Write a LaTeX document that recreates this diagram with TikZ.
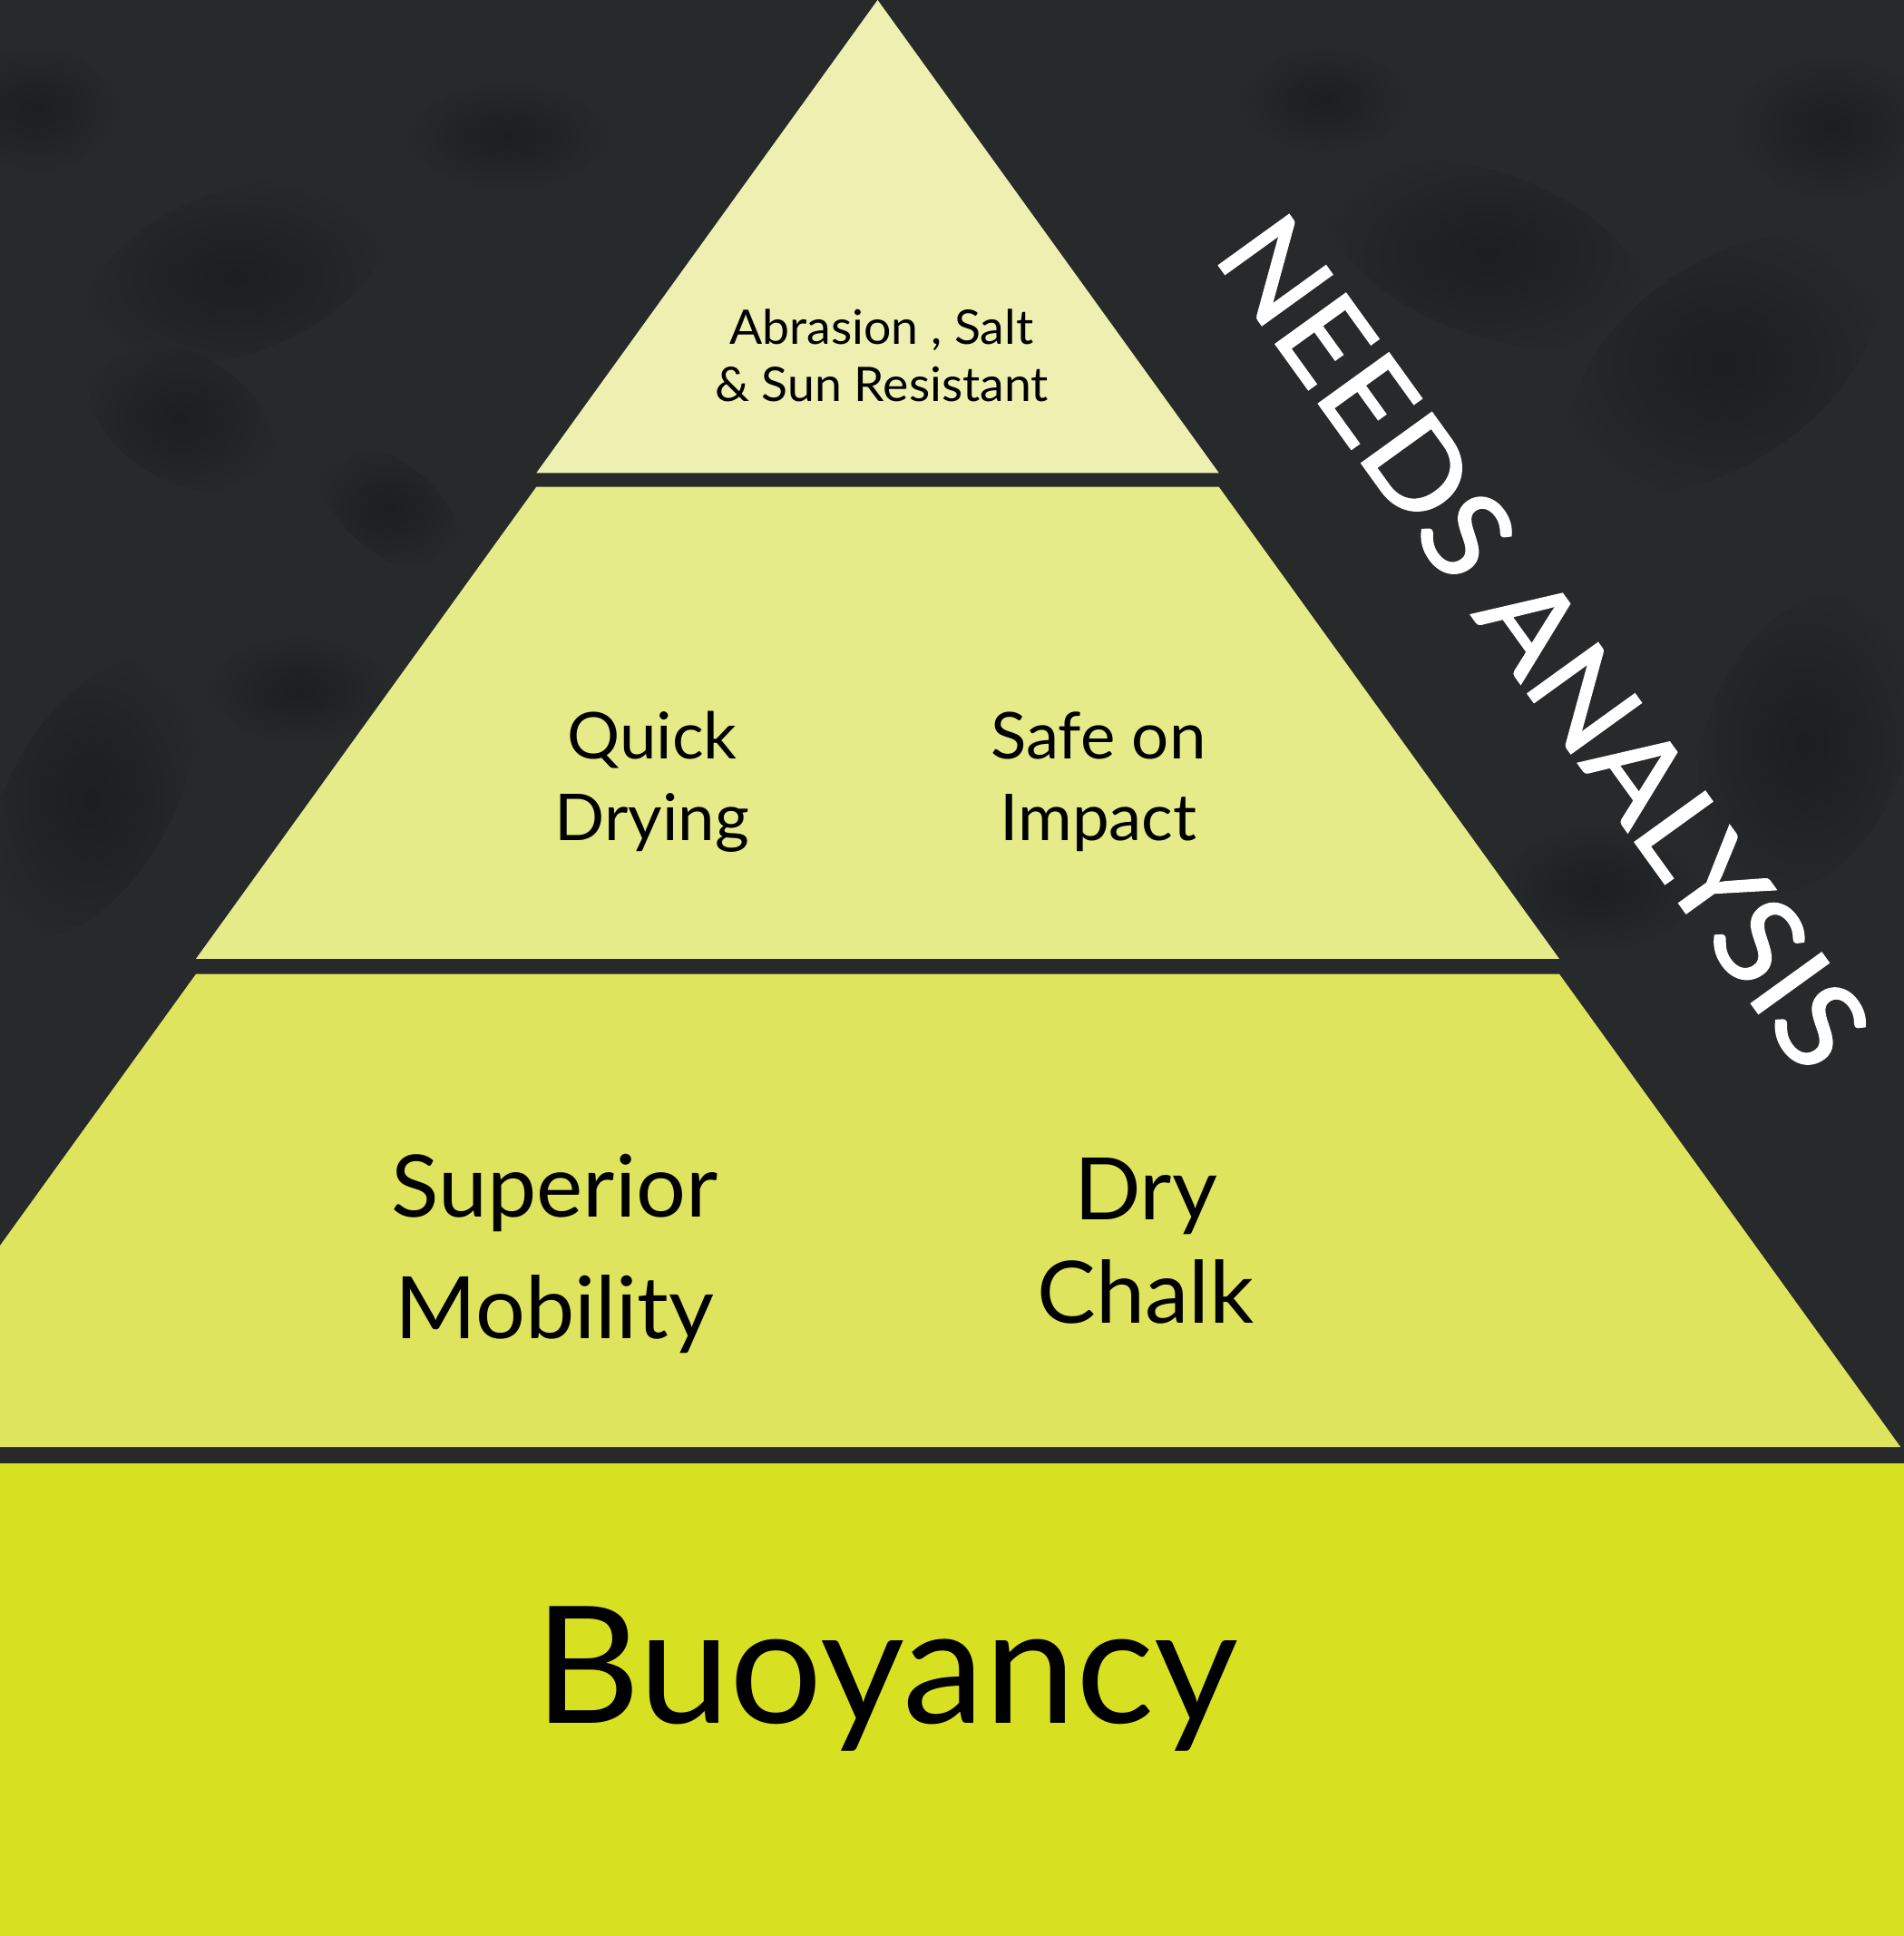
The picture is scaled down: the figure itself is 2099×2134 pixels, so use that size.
\documentclass[tikz,border=0pt]{standalone}
\usepackage{fontspec}
\setmainfont{Lato}[FakeStretch=1.02]
\newfontfamily\plainfont{Lato}[FakeStretch=1.005]
\newfontfamily\titlefont{Lato}[FakeBold=1.3, FakeStretch=1.05]
\definecolor{bgdark}{HTML}{27292B}
\definecolor{bgdeep}{HTML}{12171A}
\definecolor{tierA}{HTML}{EEF0B1}
\definecolor{tierB}{HTML}{E6EB89}
\definecolor{tierC}{HTML}{DEE45E}
\definecolor{tierD}{HTML}{D7E021}
\begin{document}
\begin{tikzpicture}[x=1pt,y=-1pt,
  lbl/.style={inner sep=0pt, anchor=base, text=black},
  blob/.style={inner color=bgdeep, outer color=bgdark, opacity=0.55}]
\useasboundingbox (0,0) rectangle (2099,2134);
\clip (0,0) rectangle (2099,2134);
% background (mottled stone)
\fill[bgdark] (0,0) rectangle (2099,2134);
\shade[blob, rotate around={20:(260,300)}] (260,300) ellipse (170 and 90);
\shade[blob, rotate around={-30:(200,460)}] (200,460) ellipse (110 and 70);
\shade[blob] (560,150) ellipse (110 and 60);
\shade[blob, rotate around={60:(100,880)}] (100,880) ellipse (170 and 90);
\shade[blob] (330,760) ellipse (100 and 60);
\shade[blob, rotate around={-20:(1640,280)}] (1640,280) ellipse (180 and 90);
\shade[blob, rotate around={35:(1900,400)}] (1900,400) ellipse (190 and 110);
\shade[blob, rotate around={70:(1990,820)}] (1990,820) ellipse (170 and 110);
\shade[blob] (1760,980) ellipse (110 and 70);
\shade[blob] (2020,140) ellipse (110 and 80);
\shade[blob] (1460,110) ellipse (90 and 60);
\shade[blob] (40,120) ellipse (90 and 70);
\shade[blob, rotate around={-40:(430,560)}] (430,560) ellipse (90 and 50);
% pyramid tiers
\fill[tierA] (967.5,0) -- (1343.7,521.3) -- (591.3,521.3) -- cycle;
\fill[tierB] (591.3,536.7) -- (1343.7,536.7) -- (1719,1056.9) -- (216,1056.9) -- cycle;
\fill[tierC] (216,1073.7) -- (1719,1073.7) -- (2095.2,1595) -- (-160.2,1595) -- cycle;
\fill[tierD] (0,1613.3) rectangle (2099,2134);
% labels
\node[lbl, font=\fontsize{52.5}{63}\selectfont] (t1a) at (972,379.3) {Abrasion , Salt};
\node[lbl, font=\fontsize{52.5}{63}\selectfont] (t1b) at (972,442.7) {\& Sun Resistant};
\node[lbl, font=\fontsize{71.2}{90}\selectfont] (t2a) at (719,836) {Quick};
\node[lbl, font=\fontsize{71.2}{90}\selectfont] (t2b) at (719,926.7) {Drying};
\node[lbl, font=\fontsize{71.2}{90}\selectfont] (t2c) at (1211,836) {Safe on};
\node[lbl, font=\fontsize{71.2}{90}\selectfont] (t2d) at (1211,926.7) {Impact};
\node[lbl, font=\fontsize{95}{120}\selectfont] (t3a) at (611.5,1341.7) {Superior};
\node[lbl, font=\fontsize{95}{120}\selectfont] (t3b) at (611.5,1475) {Mobility};
\node[lbl, font=\fontsize{95}{120}\selectfont] (t3c) at (1263,1344) {Dry};
\node[lbl, font=\fontsize{95}{120}\selectfont] (t3d) at (1263,1458.3) {Chalk};
\node[lbl, font=\plainfont\fontsize{179.6}{200}\selectfont] (t4) at (977,1899.3) {Buoyancy};
\node[inner sep=0pt, anchor=base west, rotate=-54.19, text=white,
      font=\titlefont\fontsize{133.4}{150}\selectfont] (title) at (1336,282) {NEEDS ANALYSIS};
\end{tikzpicture}
\end{document}
